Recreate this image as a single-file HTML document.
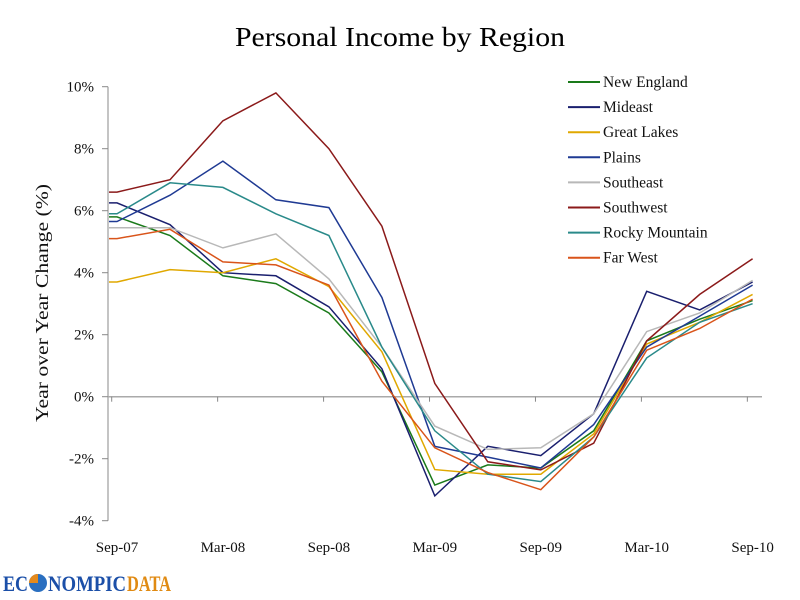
<!DOCTYPE html>
<html><head><meta charset="utf-8">
<style>
body{margin:0;background:#fff;}
svg{display:block;font-family:"Liberation Serif",serif;}
</style></head>
<body>
<svg id="chart" width="800" height="600" viewBox="0 0 800 600">
<text x="400" y="46" text-anchor="middle" font-size="27" fill="#000" textLength="330" lengthAdjust="spacingAndGlyphs">Personal Income by Region</text>
<text transform="translate(48,303) rotate(-90)" text-anchor="middle" font-size="18" fill="#111" textLength="238" lengthAdjust="spacingAndGlyphs">Year over Year Change (%)</text>
<g id="axes"></g>
<g id="series"></g>
<g id="legend"></g>
<g>
<text x="3" y="591" font-size="22" font-weight="bold" fill="#1b4fa8" textLength="25" lengthAdjust="spacingAndGlyphs">EC</text>
<circle cx="38" cy="583" r="9" fill="#2a6fc0"/>
<path d="M38 583 L38 574 A9 9 0 0 0 29 583 Z" fill="#e58a1c"/>
<text x="48" y="591" font-size="22" font-weight="bold" fill="#1b4fa8" textLength="78" lengthAdjust="spacingAndGlyphs">NOMPIC</text>
<text x="127" y="591" font-size="22" font-weight="bold" fill="#e08a12" textLength="44" lengthAdjust="spacingAndGlyphs">DATA</text>
</g>
</svg>
<script>
const categories=["Sep-07","Dec-07","Mar-08","Jun-08","Sep-08","Dec-08","Mar-09","Jun-09","Sep-09","Dec-09","Mar-10","Jun-10","Sep-10"];
const tickLabels=["Sep-07","Mar-08","Sep-08","Mar-09","Sep-09","Mar-10","Sep-10"];
const yTicks=[-4,-2,0,2,4,6,8,10];
const seriesNames=["New England","Mideast","Great Lakes","Plains","Southeast","Southwest","Rocky Mountain","Far West"];
const seriesColors=["#1a7a1a","#1a1f6e","#e0a800","#1f3a93","#b8b8b8","#8b1a1a","#2a8a8a","#d9541a"];
const newEngland=[5.8,5.2,3.9,3.65,2.7,0.8,-2.85,-2.2,-2.3,-1.1,1.8,2.5,3.1];
const mideast=[6.25,5.55,4.0,3.9,2.9,0.9,-3.2,-1.6,-1.9,-0.55,3.4,2.8,3.7];
const greatLakes=[3.7,4.1,4.0,4.45,3.55,1.45,-2.35,-2.5,-2.5,-1.2,1.7,2.4,3.3];
const plains=[5.65,6.5,7.6,6.35,6.1,3.2,-1.6,-1.95,-2.3,-0.9,1.6,2.6,3.6];
const southeast=[5.45,5.45,4.8,5.25,3.8,1.6,-0.95,-1.7,-1.65,-0.55,2.1,2.7,3.75];
const southwest=[6.6,7.0,8.9,9.8,8.0,5.5,0.43,-2.1,-2.36,-1.5,1.8,3.3,4.45];
const rockyMountain=[5.9,6.9,6.75,5.9,5.2,1.6,-1.1,-2.5,-2.74,-1.3,1.25,2.4,3.0];
const farWest=[5.1,5.4,4.35,4.25,3.6,0.5,-1.65,-2.45,-3.0,-1.3,1.5,2.2,3.15];
const allSeries=[newEngland,mideast,greatLakes,plains,southeast,southwest,rockyMountain,farWest];

const NS="http://www.w3.org/2000/svg";
const x0=117,step=52.97,axisX=108,axisR=762;
function xs(i){return x0+i*step;}
function ys(v){return 396.7-v*31;}
function mk(tag,attrs,parent){const e=document.createElementNS(NS,tag);for(const k in attrs)e.setAttribute(k,attrs[k]);parent.appendChild(e);return e;}
const axes=document.getElementById('axes');
let a=mk('line',{x1:axisX,y1:ys(10),x2:axisX,y2:ys(-4),stroke:'#888','stroke-width':1},axes);


yTicks.forEach(v=>{
  const t=mk('line',{x1:axisX-6,y1:ys(v),x2:axisX,y2:ys(v),stroke:'#888'},axes);
  
  
  const l=mk('text',{x:94,y:ys(v)+5,'text-anchor':'end','font-size':15,fill:'#111'},axes);
  l.textContent=v+'%';
  
  
});
a=mk('line',{x1:axisX,y1:ys(0),x2:axisR,y2:ys(0),stroke:'#aaa','stroke-width':1.5},axes);


for(let k=0;k<7;k++){
  const tx=xs(2*k)-5.3;
  const t=mk('line',{x1:tx,y1:ys(0),x2:tx,y2:ys(0)+5,stroke:'#888'},axes);
  
  
}
tickLabels.forEach((lab,k)=>{
  const i=categories.indexOf(lab);
  const l=mk('text',{x:xs(i),y:552,'text-anchor':'middle','font-size':15,fill:'#111'},axes);
  l.textContent=lab;
  
  
});
const sg=document.getElementById('series');
allSeries.forEach((s,j)=>{
  let d='M'+(axisX+1)+' '+ys(s[0]).toFixed(1);
  s.forEach((v,i)=>{d+=' L'+xs(i).toFixed(1)+' '+ys(v).toFixed(1);});
  const p=mk('path',{d:d,fill:'none',stroke:seriesColors[j],'stroke-width':1.5},sg);
  
  
});
const lg=document.getElementById('legend');
seriesNames.forEach((n,j)=>{
  const y=82+j*25.1;
  const g=mk('g',{},lg);
  
  
  mk('line',{x1:568,y1:y,x2:600,y2:y,stroke:seriesColors[j],'stroke-width':2},g);
  const t=mk('text',{x:603,y:y+5,'font-size':15.5,fill:'#111'},g);
  t.textContent=n;
});
</script>
</body></html>
